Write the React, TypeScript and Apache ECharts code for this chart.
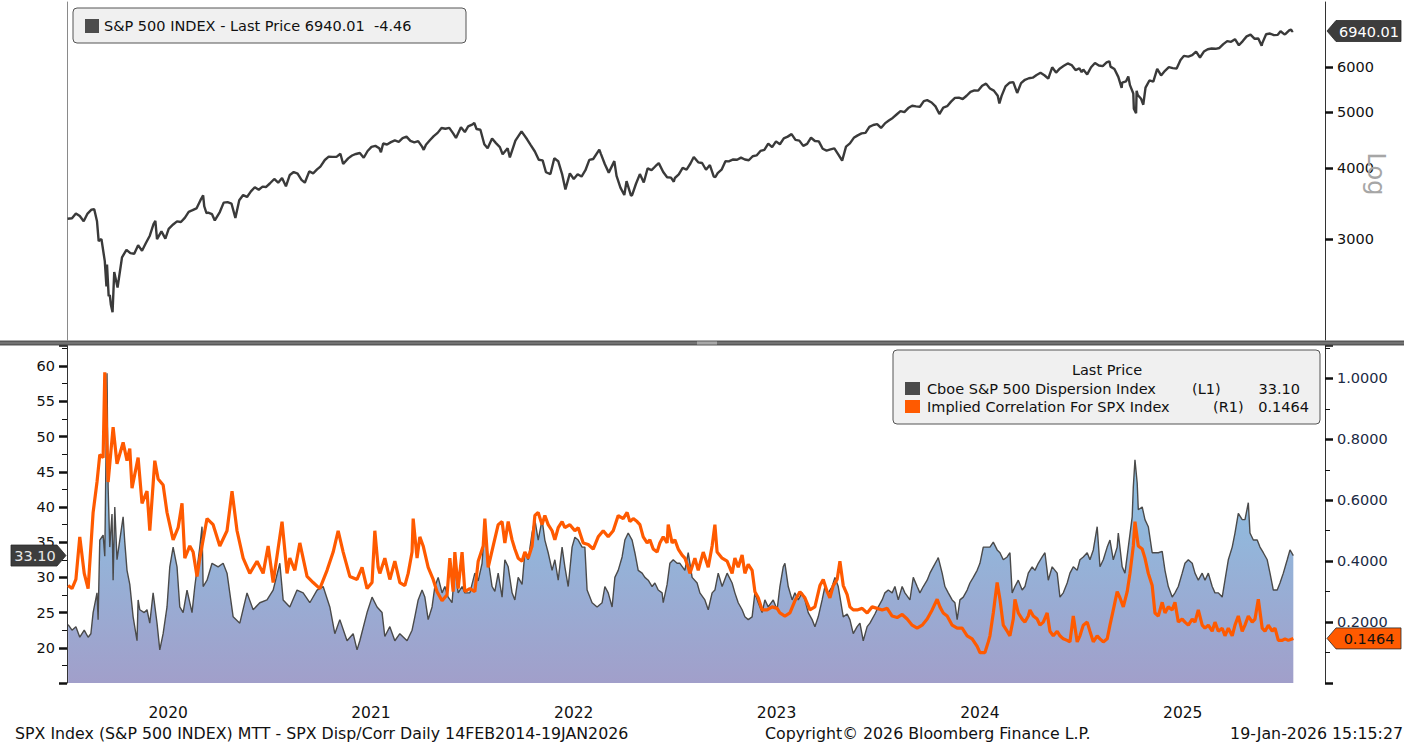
import { useEffect, useRef } from "react";
import * as echarts from "echarts";

const DAY = 86400000;
const ORIGIN = Date.UTC(2020, 0, 1);
const X_END_DAYS = 2264;
const FONT = "DejaVu Sans";

// S&P 500 closes (weekly, plus key daily turning points)
const spxCloses: [string, number][] = [
  ["2020-01-02", 3258], ["2020-01-10", 3265], ["2020-01-17", 3330], ["2020-01-24", 3295], ["2020-01-31", 3226],
  ["2020-02-07", 3328], ["2020-02-14", 3380], ["2020-02-19", 3386], ["2020-02-24", 3226], ["2020-02-27", 2979],
  ["2020-03-03", 3003], ["2020-03-09", 2747], ["2020-03-12", 2481], ["2020-03-13", 2711], ["2020-03-16", 2386],
  ["2020-03-18", 2399], ["2020-03-20", 2305], ["2020-03-23", 2237], ["2020-03-26", 2630], ["2020-04-01", 2471],
  ["2020-04-09", 2790], ["2020-04-17", 2875], ["2020-04-24", 2837], ["2020-05-01", 2831], ["2020-05-08", 2930],
  ["2020-05-15", 2864], ["2020-05-22", 2955], ["2020-05-29", 3044], ["2020-06-05", 3194], ["2020-06-08", 3232],
  ["2020-06-11", 3002], ["2020-06-19", 3098], ["2020-06-26", 3009], ["2020-07-02", 3130], ["2020-07-10", 3185],
  ["2020-07-17", 3225], ["2020-07-24", 3216], ["2020-07-31", 3271], ["2020-08-07", 3351], ["2020-08-14", 3373],
  ["2020-08-21", 3397], ["2020-08-28", 3508], ["2020-09-02", 3580], ["2020-09-04", 3427], ["2020-09-08", 3332],
  ["2020-09-11", 3341], ["2020-09-18", 3319], ["2020-09-23", 3237], ["2020-10-02", 3348], ["2020-10-09", 3477],
  ["2020-10-16", 3484], ["2020-10-23", 3465], ["2020-10-30", 3270], ["2020-11-06", 3510], ["2020-11-13", 3585],
  ["2020-11-20", 3558], ["2020-11-27", 3638], ["2020-12-04", 3699], ["2020-12-11", 3663], ["2020-12-18", 3709],
  ["2020-12-24", 3703], ["2020-12-31", 3756],
  ["2021-01-08", 3825], ["2021-01-15", 3768], ["2021-01-22", 3841], ["2021-01-29", 3714], ["2021-02-05", 3887],
  ["2021-02-12", 3934], ["2021-02-19", 3907], ["2021-02-26", 3811], ["2021-03-04", 3768], ["2021-03-12", 3943],
  ["2021-03-19", 3913], ["2021-03-26", 3975], ["2021-04-01", 4020], ["2021-04-09", 4129], ["2021-04-16", 4185],
  ["2021-04-23", 4180], ["2021-04-30", 4181], ["2021-05-07", 4233], ["2021-05-12", 4063], ["2021-05-21", 4156],
  ["2021-05-28", 4204], ["2021-06-04", 4230], ["2021-06-11", 4247], ["2021-06-18", 4166], ["2021-06-25", 4281],
  ["2021-07-02", 4352], ["2021-07-09", 4370], ["2021-07-16", 4327], ["2021-07-19", 4259], ["2021-07-23", 4412],
  ["2021-07-30", 4395], ["2021-08-06", 4437], ["2021-08-13", 4468], ["2021-08-20", 4442], ["2021-08-27", 4509],
  ["2021-09-03", 4535], ["2021-09-10", 4459], ["2021-09-17", 4433], ["2021-09-24", 4455], ["2021-10-01", 4357],
  ["2021-10-04", 4300], ["2021-10-08", 4391], ["2021-10-15", 4471], ["2021-10-22", 4545], ["2021-10-29", 4605],
  ["2021-11-05", 4697], ["2021-11-12", 4683], ["2021-11-19", 4698], ["2021-11-26", 4595], ["2021-12-01", 4513],
  ["2021-12-10", 4712], ["2021-12-17", 4621], ["2021-12-23", 4726], ["2021-12-31", 4766],
  ["2022-01-03", 4796], ["2022-01-07", 4677], ["2022-01-14", 4663], ["2022-01-21", 4398], ["2022-01-27", 4327],
  ["2022-02-04", 4501], ["2022-02-11", 4419], ["2022-02-18", 4349], ["2022-02-23", 4225], ["2022-03-04", 4329],
  ["2022-03-08", 4171], ["2022-03-18", 4463], ["2022-03-29", 4632], ["2022-04-08", 4488], ["2022-04-14", 4393],
  ["2022-04-22", 4272], ["2022-04-29", 4132], ["2022-05-06", 4123], ["2022-05-12", 3930], ["2022-05-20", 3901],
  ["2022-05-27", 4158], ["2022-06-03", 4109], ["2022-06-10", 3901], ["2022-06-16", 3667], ["2022-06-24", 3912],
  ["2022-07-01", 3825], ["2022-07-08", 3899], ["2022-07-15", 3863], ["2022-07-22", 3962], ["2022-07-29", 4130],
  ["2022-08-05", 4145], ["2022-08-16", 4305], ["2022-08-19", 4228], ["2022-08-26", 4058], ["2022-09-02", 3924],
  ["2022-09-12", 4110], ["2022-09-16", 3873], ["2022-09-23", 3693], ["2022-09-30", 3586], ["2022-10-04", 3791],
  ["2022-10-12", 3577], ["2022-10-14", 3583], ["2022-10-21", 3752], ["2022-10-28", 3901], ["2022-11-04", 3771],
  ["2022-11-11", 3993], ["2022-11-18", 3965], ["2022-11-25", 4026], ["2022-12-01", 4077], ["2022-12-09", 3934],
  ["2022-12-16", 3852], ["2022-12-23", 3845], ["2022-12-28", 3783], ["2022-12-30", 3840],
  ["2023-01-06", 3895], ["2023-01-13", 3999], ["2023-01-20", 3973], ["2023-01-27", 4071], ["2023-02-02", 4180],
  ["2023-02-10", 4090], ["2023-02-17", 4079], ["2023-02-24", 3970], ["2023-03-03", 4046], ["2023-03-10", 3862],
  ["2023-03-13", 3855], ["2023-03-17", 3917], ["2023-03-24", 3971], ["2023-03-31", 4109], ["2023-04-06", 4105],
  ["2023-04-14", 4138], ["2023-04-21", 4133], ["2023-04-28", 4169], ["2023-05-05", 4136], ["2023-05-12", 4124],
  ["2023-05-19", 4192], ["2023-05-26", 4205], ["2023-06-02", 4282], ["2023-06-09", 4299], ["2023-06-16", 4410],
  ["2023-06-23", 4348], ["2023-06-30", 4450], ["2023-07-07", 4399], ["2023-07-14", 4505], ["2023-07-21", 4536],
  ["2023-07-28", 4582], ["2023-08-04", 4478], ["2023-08-11", 4464], ["2023-08-18", 4370], ["2023-08-25", 4406],
  ["2023-09-01", 4516], ["2023-09-08", 4457], ["2023-09-15", 4450], ["2023-09-22", 4320], ["2023-09-29", 4288],
  ["2023-10-06", 4308], ["2023-10-13", 4327], ["2023-10-20", 4224], ["2023-10-27", 4117], ["2023-11-03", 4358],
  ["2023-11-10", 4415], ["2023-11-17", 4514], ["2023-11-24", 4559], ["2023-12-01", 4595], ["2023-12-08", 4604],
  ["2023-12-15", 4719], ["2023-12-22", 4754], ["2023-12-29", 4770],
  ["2024-01-05", 4697], ["2024-01-12", 4784], ["2024-01-19", 4840], ["2024-01-26", 4891], ["2024-02-02", 4959],
  ["2024-02-09", 5027], ["2024-02-16", 5006], ["2024-02-23", 5089], ["2024-03-01", 5137], ["2024-03-08", 5124],
  ["2024-03-15", 5117], ["2024-03-22", 5234], ["2024-03-28", 5254], ["2024-04-05", 5204], ["2024-04-12", 5123],
  ["2024-04-19", 4967], ["2024-04-26", 5100], ["2024-05-03", 5128], ["2024-05-10", 5223], ["2024-05-17", 5303],
  ["2024-05-24", 5305], ["2024-05-31", 5278], ["2024-06-07", 5347], ["2024-06-14", 5432], ["2024-06-21", 5465],
  ["2024-06-28", 5460], ["2024-07-05", 5567], ["2024-07-12", 5615], ["2024-07-19", 5505], ["2024-07-26", 5459],
  ["2024-08-02", 5346], ["2024-08-05", 5186], ["2024-08-09", 5344], ["2024-08-16", 5554], ["2024-08-23", 5634],
  ["2024-08-30", 5648], ["2024-09-06", 5408], ["2024-09-13", 5626], ["2024-09-20", 5703], ["2024-09-27", 5738],
  ["2024-10-04", 5751], ["2024-10-11", 5815], ["2024-10-18", 5865], ["2024-10-25", 5808], ["2024-11-01", 5729],
  ["2024-11-08", 5996], ["2024-11-15", 5871], ["2024-11-22", 5969], ["2024-11-29", 6032], ["2024-12-06", 6090],
  ["2024-12-13", 6051], ["2024-12-20", 5931], ["2024-12-27", 5971], ["2024-12-31", 5882],
  ["2025-01-03", 5942], ["2025-01-10", 5827], ["2025-01-17", 5997], ["2025-01-24", 6101], ["2025-01-31", 6041],
  ["2025-02-07", 6026], ["2025-02-14", 6115], ["2025-02-19", 6144], ["2025-02-21", 6013], ["2025-02-28", 5955],
  ["2025-03-07", 5770], ["2025-03-13", 5522], ["2025-03-14", 5639], ["2025-03-21", 5668], ["2025-03-25", 5777],
  ["2025-03-28", 5581], ["2025-04-03", 5397], ["2025-04-04", 5074], ["2025-04-08", 4983], ["2025-04-09", 5457],
  ["2025-04-11", 5363], ["2025-04-17", 5283], ["2025-04-21", 5158], ["2025-04-25", 5525], ["2025-05-02", 5687],
  ["2025-05-09", 5660], ["2025-05-16", 5958], ["2025-05-23", 5803], ["2025-05-30", 5912], ["2025-06-06", 6000],
  ["2025-06-13", 5977], ["2025-06-20", 5968], ["2025-06-27", 6173], ["2025-07-03", 6279], ["2025-07-11", 6260],
  ["2025-07-18", 6297], ["2025-07-25", 6389], ["2025-08-01", 6238], ["2025-08-08", 6389], ["2025-08-15", 6450],
  ["2025-08-22", 6467], ["2025-08-29", 6460], ["2025-09-05", 6482], ["2025-09-12", 6584], ["2025-09-19", 6664],
  ["2025-09-26", 6644], ["2025-10-03", 6716], ["2025-10-10", 6553], ["2025-10-17", 6664], ["2025-10-24", 6792],
  ["2025-10-31", 6840], ["2025-11-07", 6729], ["2025-11-14", 6734], ["2025-11-20", 6538], ["2025-11-21", 6603],
  ["2025-11-28", 6849], ["2025-12-05", 6870], ["2025-12-12", 6827], ["2025-12-19", 6834], ["2025-12-24", 6932],
  ["2025-12-31", 6845], ["2026-01-02", 6858], ["2026-01-09", 6966], ["2026-01-12", 6977], ["2026-01-14", 6926],
  ["2026-01-15", 6944.47], ["2026-01-16", 6940.01],
];

// Cboe S&P 500 Dispersion Index: [days since 2020-01-01, value]
const dispersion: [number, number][] = [
  [2, 23.3], [9, 22.5], [16, 23], [23, 21.5], [31, 22.5], [38, 21.5], [43, 22], [47, 25], [54, 27.8], [56, 24],
  [59, 35.3], [65, 36], [68, 33], [72, 59], [74, 42.8], [77, 34.3], [81, 39], [83, 29.6], [86, 40], [90, 32.5],
  [95, 35.3], [101, 38.6], [104, 35], [108, 31], [113, 29], [119, 24.4], [126, 21], [128, 26.8], [131, 25.4], [139, 25],
  [144, 25.4], [149, 23.5], [155, 27.8], [162, 23.5], [167, 19.7], [173, 22], [180, 25.8], [185, 31.5], [191, 34.3], [198, 31.5],
  [203, 25.8], [209, 25], [216, 28.2], [225, 25], [230, 28.7], [239, 34.3], [243, 37.2], [245, 28.7], [252, 29.6], [261, 32],
  [272, 31.5], [281, 32], [288, 30.6], [299, 24.4], [311, 23.5], [324, 27.8], [335, 25.4], [347, 26.4], [360, 26.8], [371, 28.2],
  [383, 32], [389, 26.8], [401, 25.8], [414, 28.2], [425, 27.8], [437, 26.4], [450, 28.2], [461, 28.7], [473, 25.8], [482, 22],
  [491, 24], [504, 21], [515, 22], [522, 19.7], [527, 21], [540, 25], [549, 27.2], [558, 25.8], [567, 25], [572, 21.6],
  [581, 23], [590, 21], [599, 22], [612, 21], [621, 22.5], [626, 24.4], [632, 26.8], [639, 28.2], [644, 27.2], [650, 24],
  [657, 25.8], [662, 28.7], [668, 30], [675, 27.8], [680, 28.7], [686, 27.2], [693, 26.4], [698, 31.5], [704, 27.8], [711, 28.7],
  [716, 27.8], [725, 27.8], [734, 30.6], [740, 29.5], [747, 32], [752, 37.7], [758, 32.5], [765, 28.7], [770, 28], [776, 30.6],
  [783, 27.2], [788, 32.5], [794, 31.5], [801, 27.8], [806, 26.8], [812, 30], [819, 29], [824, 33.5], [830, 32.5], [837, 36.3],
  [842, 38.2], [848, 35.3], [855, 38.2], [860, 35.3], [866, 33.5], [873, 31], [878, 32.5], [884, 29.6], [891, 34.3], [896, 31.5],
  [902, 28.7], [909, 34.3], [914, 35.7], [920, 35.3], [927, 34.3], [932, 34.3], [936, 28.2], [945, 26.4], [954, 25.8], [963, 26.4],
  [968, 28.7], [974, 27.8], [981, 25.8], [986, 30], [992, 31], [999, 32.9], [1004, 35.3], [1010, 36.3], [1017, 35.3], [1022, 33.5],
  [1028, 31], [1035, 30.6], [1040, 30], [1046, 29.6], [1053, 28.7], [1058, 29.2], [1064, 28.2], [1071, 27.8], [1073, 26.4], [1080, 29],
  [1085, 32], [1091, 32.5], [1098, 32], [1103, 32], [1112, 31], [1118, 33.5], [1125, 30], [1134, 29.2], [1139, 27.8], [1148, 26.8],
  [1154, 25.4], [1161, 27.8], [1166, 28.2], [1172, 30.6], [1179, 28.7], [1188, 30.6], [1197, 29.2], [1202, 27.8], [1208, 26.4], [1215, 25.4],
  [1220, 24.4], [1226, 24], [1233, 24.4], [1238, 27.8], [1244, 26.4], [1251, 25], [1256, 26.8], [1262, 25.8], [1271, 26.8], [1278, 25.4],
  [1283, 28.7], [1289, 31.5], [1292, 32], [1298, 28.7], [1305, 26.8], [1310, 27.8], [1316, 26.8], [1323, 27.8], [1328, 26.8], [1334, 25],
  [1341, 24], [1346, 23], [1352, 24.4], [1359, 26.8], [1364, 28.7], [1370, 27.8], [1377, 28.7], [1382, 30], [1388, 28.7], [1397, 24.4],
  [1404, 24.8], [1409, 24], [1415, 22], [1422, 23], [1427, 23.5], [1433, 21], [1440, 23], [1445, 23.5], [1454, 24.8], [1460, 25.8],
  [1467, 26.8], [1472, 27.8], [1478, 28.2], [1485, 27.8], [1490, 28.7], [1496, 26.8], [1503, 28.7], [1508, 27.8], [1517, 26.8], [1523, 30],
  [1530, 28.7], [1535, 27.8], [1541, 28.7], [1548, 29.6], [1553, 30.6], [1559, 31.5], [1566, 32.5], [1568, 32.8], [1575, 30.6], [1580, 28.7],
  [1586, 27.8], [1593, 26.8], [1598, 26.4], [1602, 24], [1607, 26.8], [1613, 27.2], [1620, 28.2], [1625, 29.2], [1631, 30], [1638, 31],
  [1643, 32], [1649, 34.3], [1656, 34.3], [1661, 34.3], [1667, 35], [1674, 33.9], [1679, 33.5], [1685, 32.5], [1692, 32.9], [1697, 33.5],
  [1701, 27.8], [1706, 28.7], [1712, 29.6], [1719, 28.2], [1724, 28.7], [1730, 30.6], [1737, 31.5], [1742, 31], [1748, 32], [1755, 32.9],
  [1760, 33.5], [1766, 29.6], [1773, 31.5], [1782, 30.6], [1787, 27.2], [1793, 27.8], [1800, 29.2], [1805, 30.6], [1811, 31.5], [1818, 31],
  [1823, 32.5], [1829, 32.9], [1836, 33.5], [1841, 32.5], [1847, 33.9], [1854, 37.2], [1859, 31.5], [1865, 32.5], [1872, 34.3], [1877, 35.3],
  [1883, 32.5], [1890, 34.3], [1892, 36.3], [1899, 31.5], [1904, 30.6], [1910, 34.3], [1917, 38.6], [1919, 42.8], [1922, 46.7], [1926, 43.4],
  [1928, 39.6], [1935, 40], [1940, 38.2], [1946, 37.2], [1953, 33.5], [1958, 33.5], [1964, 33.5], [1971, 33.7], [1976, 31], [1982, 28.7],
  [1989, 27.2], [1994, 27.8], [2000, 28.7], [2007, 30.6], [2012, 32], [2018, 32.5], [2025, 32], [2030, 30.6], [2036, 29.6], [2043, 30.6],
  [2048, 29.6], [2054, 30.6], [2061, 28.7], [2066, 27.8], [2072, 27.8], [2079, 27.2], [2084, 29.6], [2090, 32.5], [2097, 34.3], [2102, 36.3],
  [2108, 39.1], [2115, 38.2], [2120, 38.2], [2126, 40.6], [2129, 36.3], [2135, 35.3], [2142, 35.3], [2147, 34.3], [2153, 33.5], [2160, 32.5],
  [2165, 30.6], [2171, 28.2], [2178, 28.2], [2183, 29.2], [2189, 30.6], [2196, 32.5], [2201, 33.9], [2207, 33.1],
];

// Implied Correlation for SPX Index: [days since 2020-01-01, value]
const correlation: [number, number][] = [
  [2, 0.32], [9, 0.31], [16, 0.34], [23, 0.48], [31, 0.36], [38, 0.31], [47, 0.56], [54, 0.66], [59, 0.75], [65, 0.74],
  [68, 1.02], [74, 0.66], [83, 0.84], [90, 0.72], [101, 0.79], [108, 0.73], [113, 0.77], [117, 0.64], [128, 0.74], [135, 0.59],
  [144, 0.63], [149, 0.5], [158, 0.73], [164, 0.67], [173, 0.65], [180, 0.56], [191, 0.47], [200, 0.51], [207, 0.59], [212, 0.41],
  [221, 0.45], [227, 0.43], [234, 0.35], [239, 0.41], [252, 0.54], [263, 0.52], [275, 0.45], [288, 0.5], [297, 0.63], [306, 0.5],
  [317, 0.41], [329, 0.36], [342, 0.4], [353, 0.36], [362, 0.45], [371, 0.33], [387, 0.53], [396, 0.36], [401, 0.41], [410, 0.37],
  [419, 0.46], [432, 0.35], [443, 0.33], [455, 0.31], [468, 0.37], [479, 0.43], [488, 0.5], [497, 0.43], [509, 0.35], [522, 0.34],
  [531, 0.38], [540, 0.31], [549, 0.33], [554, 0.5], [560, 0.38], [563, 0.36], [572, 0.41], [581, 0.34], [590, 0.4], [599, 0.33],
  [608, 0.32], [614, 0.36], [621, 0.43], [623, 0.54], [630, 0.41], [635, 0.48], [641, 0.45], [650, 0.38], [659, 0.34], [666, 0.3],
  [675, 0.27], [684, 0.29], [689, 0.41], [695, 0.3], [698, 0.43], [704, 0.31], [711, 0.43], [716, 0.3], [725, 0.31], [734, 0.3],
  [740, 0.4], [749, 0.45], [752, 0.54], [758, 0.38], [767, 0.45], [776, 0.52], [783, 0.53], [788, 0.46], [794, 0.53], [801, 0.47],
  [806, 0.44], [812, 0.41], [819, 0.4], [824, 0.43], [830, 0.41], [837, 0.45], [842, 0.55], [848, 0.56], [855, 0.52], [860, 0.55],
  [866, 0.52], [873, 0.5], [878, 0.47], [884, 0.51], [891, 0.53], [896, 0.51], [905, 0.52], [914, 0.5], [920, 0.51], [929, 0.46],
  [938, 0.455], [947, 0.44], [956, 0.48], [965, 0.5], [974, 0.48], [983, 0.5], [992, 0.55], [1001, 0.54], [1008, 0.56], [1013, 0.53],
  [1019, 0.54], [1026, 0.53], [1031, 0.52], [1037, 0.48], [1044, 0.46], [1049, 0.47], [1055, 0.44], [1062, 0.43], [1067, 0.46], [1073, 0.48],
  [1080, 0.46], [1082, 0.52], [1089, 0.46], [1094, 0.47], [1100, 0.44], [1107, 0.42], [1112, 0.41], [1118, 0.38], [1121, 0.36], [1130, 0.41],
  [1136, 0.37], [1145, 0.43], [1154, 0.38], [1161, 0.45], [1166, 0.52], [1170, 0.43], [1179, 0.41], [1188, 0.4], [1197, 0.36], [1202, 0.41],
  [1208, 0.38], [1215, 0.42], [1220, 0.36], [1226, 0.39], [1233, 0.37], [1238, 0.3], [1244, 0.28], [1251, 0.24], [1260, 0.24], [1269, 0.25],
  [1278, 0.245], [1283, 0.23], [1292, 0.22], [1301, 0.23], [1310, 0.27], [1319, 0.3], [1328, 0.28], [1337, 0.24], [1346, 0.25], [1355, 0.32],
  [1361, 0.34], [1368, 0.3], [1373, 0.28], [1379, 0.32], [1386, 0.34], [1391, 0.4], [1397, 0.32], [1404, 0.29], [1409, 0.25], [1415, 0.24],
  [1422, 0.24], [1431, 0.245], [1440, 0.23], [1449, 0.25], [1458, 0.245], [1467, 0.24], [1476, 0.245], [1485, 0.22], [1494, 0.215], [1503, 0.225],
  [1512, 0.21], [1521, 0.19], [1530, 0.18], [1539, 0.19], [1548, 0.21], [1557, 0.24], [1566, 0.275], [1571, 0.25], [1577, 0.23], [1584, 0.22],
  [1593, 0.19], [1602, 0.18], [1611, 0.18], [1620, 0.155], [1629, 0.145], [1638, 0.12], [1643, 0.1], [1652, 0.1], [1658, 0.135], [1661, 0.155],
  [1667, 0.23], [1674, 0.33], [1679, 0.275], [1685, 0.19], [1692, 0.17], [1697, 0.155], [1703, 0.21], [1706, 0.275], [1712, 0.23], [1719, 0.21],
  [1724, 0.2], [1730, 0.22], [1733, 0.24], [1739, 0.22], [1746, 0.21], [1751, 0.19], [1757, 0.2], [1764, 0.23], [1769, 0.17], [1775, 0.155],
  [1782, 0.17], [1787, 0.155], [1793, 0.145], [1800, 0.14], [1805, 0.135], [1811, 0.22], [1818, 0.135], [1823, 0.155], [1829, 0.19], [1836, 0.2],
  [1841, 0.17], [1847, 0.135], [1854, 0.155], [1859, 0.145], [1865, 0.135], [1872, 0.145], [1877, 0.19], [1883, 0.24], [1890, 0.3], [1895, 0.28],
  [1901, 0.25], [1908, 0.3], [1913, 0.36], [1919, 0.45], [1922, 0.53], [1928, 0.45], [1935, 0.44], [1940, 0.41], [1946, 0.36], [1953, 0.32],
  [1958, 0.23], [1964, 0.22], [1971, 0.265], [1976, 0.23], [1982, 0.25], [1989, 0.24], [1994, 0.265], [2000, 0.2], [2007, 0.21], [2012, 0.2],
  [2018, 0.19], [2025, 0.21], [2030, 0.2], [2036, 0.24], [2043, 0.19], [2048, 0.18], [2054, 0.19], [2061, 0.17], [2066, 0.2], [2072, 0.17],
  [2079, 0.18], [2084, 0.155], [2090, 0.18], [2097, 0.155], [2102, 0.19], [2108, 0.22], [2115, 0.17], [2120, 0.19], [2126, 0.22], [2133, 0.2],
  [2138, 0.21], [2144, 0.275], [2151, 0.18], [2156, 0.17], [2162, 0.19], [2169, 0.17], [2174, 0.18], [2180, 0.14], [2187, 0.14], [2192, 0.145],
  [2198, 0.14], [2207, 0.1464],
];

const yearLabels = ["2020", "2021", "2022", "2023", "2024", "2025"];
const spxTicks = [3000, 4000, 5000, 6000];
const dispTicks = [20, 25, 30, 35, 40, 45, 50, 55, 60];
const corrTicks = [0.2, 0.4, 0.6, 0.8, 1.0];

const lastSpx = 6940.01;
const spxChange = -4.46;
const lastDisp = 33.1;
const lastCorr = 0.1464;

const DISP_COLOR = "#4a4a4a";
const CORR_COLOR = "#ff5a00";

export default function App() {
  const ref = useRef<HTMLDivElement>(null);

  useEffect(() => {
    if (!ref.current) return;
    const chart = echarts.init(ref.current, undefined, { renderer: "svg" });
    const toTs = (d: number) => ORIGIN + d * DAY;
    const axisText = { fontFamily: FONT, fontSize: 14.5, color: "#111" };

    chart.setOption({
      animation: false,
      backgroundColor: "#ffffff",
      textStyle: { fontFamily: FONT },
      grid: [
        { left: 67, right: 79, top: 2, height: 338 },
        { left: 67, right: 79, top: 345, height: 338 },
      ],
      xAxis: [
        { type: "value", gridIndex: 0, min: ORIGIN, max: toTs(X_END_DAYS), show: false },
        {
          type: "value", gridIndex: 1, min: ORIGIN, max: toTs(X_END_DAYS),
          axisLine: { show: false }, axisTick: { show: false }, splitLine: { show: false },
          axisLabel: {
            ...axisText, fontSize: 15.5, margin: 22,
            customValues: yearLabels.map((y) => Date.UTC(Number(y), 6, 1)),
            formatter: (v: number) => String(new Date(v).getUTCFullYear()),
          },
        },
      ],
      yAxis: [
        {
          type: "value", gridIndex: 0, position: "right",
          min: Math.log10(2000), max: Math.log10(7800),
          splitLine: { show: false },
          axisLine: { show: true, lineStyle: { color: "#333", width: 1 } },
          axisTick: { show: true, length: 8, customValues: spxTicks.map((v) => Math.log10(v)), lineStyle: { color: "#111", width: 2.5 } },
          axisLabel: { ...axisText, margin: 12, customValues: spxTicks.map((v) => Math.log10(v)), formatter: (v: number) => String(Math.round(Math.pow(10, v))) },
        },
        {
          type: "value", gridIndex: 0, position: "left", min: 0, max: 1,
          splitLine: { show: false }, axisTick: { show: false }, axisLabel: { show: false },
          axisLine: { show: true, lineStyle: { color: "#8a8a8a", width: 1 } },
        },
        {
          type: "value", gridIndex: 1, position: "left", min: 15, max: 63, interval: 5,
          splitLine: { show: false },
          axisLine: { show: true, lineStyle: { color: "#333", width: 1 } },
          axisTick: { show: true, length: 8, lineStyle: { color: "#111", width: 2.5 } },
          minorTick: { show: true, splitNumber: 2, length: 5, lineStyle: { color: "#111", width: 1 } },
          axisLabel: {
            ...axisText, margin: 12,
            formatter: (v: number) => (dispTicks.indexOf(v) >= 0 ? String(v) : ""),
          },
        },
        {
          type: "value", gridIndex: 1, position: "right", min: 0, max: 1.11, interval: 0.2,
          splitLine: { show: false },
          axisLine: { show: true, lineStyle: { color: "#333", width: 1 } },
          axisTick: { show: true, length: 8, lineStyle: { color: "#111", width: 2.5 } },
          minorTick: { show: true, splitNumber: 2, length: 5, lineStyle: { color: "#111", width: 1 } },
          axisLabel: {
            ...axisText, color: "#1b2a44", margin: 12,
            formatter: (v: number) => (corrTicks.some((t) => Math.abs(t - v) < 1e-6) ? v.toFixed(4) : ""),
          },
        },
      ],
      series: [
        {
          name: "S&P 500 INDEX", type: "line", xAxisIndex: 0, yAxisIndex: 0,
          showSymbol: false, symbol: "none",
          lineStyle: { color: "#3a3a3a", width: 2.4 },
          data: spxCloses.map(([d, v]) => [Date.parse(d + "T00:00:00Z"), Math.log10(v)]),
          z: 3,
        },
        {
          name: "Cboe S&P 500 Dispersion Index", type: "line", xAxisIndex: 1, yAxisIndex: 2,
          showSymbol: false, symbol: "none",
          lineStyle: { color: DISP_COLOR, width: 1.4 },
          areaStyle: {
            origin: "start",
            color: new echarts.graphic.LinearGradient(0, 430, 0, 683, [
              { offset: 0, color: "#8ac6e6" },
              { offset: 0.45, color: "#93b5da" },
              { offset: 1, color: "#a19fca" },
            ], true),
            opacity: 1,
          },
          data: dispersion.map(([d, v]) => [toTs(d), v]),
          z: 2,
        },
        {
          name: "Implied Correlation For SPX Index", type: "line", xAxisIndex: 1, yAxisIndex: 3,
          showSymbol: false, symbol: "none",
          lineStyle: { color: CORR_COLOR, width: 3.2 },
          data: correlation.map(([d, v]) => [toTs(d), v]),
          z: 4,
        },
      ],
    });

    const ySpx = chart.convertToPixel({ yAxisIndex: 0 }, Math.log10(lastSpx)) as number;
    const yDisp = chart.convertToPixel({ yAxisIndex: 2 }, lastDisp) as number;
    const yCorr = chart.convertToPixel({ yAxisIndex: 3 }, lastCorr) as number;

    const font = (size: number) => `${size}px "${FONT}"`;
    const rightTag = (y: number, label: string, fill: string, color: string) => ([
      {
        type: "polygon", z: 120,
        shape: { points: [[1327, y], [1336, y - 10.5], [1401, y - 10.5], [1401, y + 10.5], [1336, y + 10.5]] },
        style: { fill, stroke: "#2a2a2a", lineWidth: 0.8 },
      },
      { type: "text", z: 121, style: { x: 1369, y: y + 0.5, text: label, fill: color, font: font(14.5), align: "center", verticalAlign: "middle" } },
    ]);

    const footerFont = font(15.8);
    const graphics: any[] = [
      // panel divider
      { type: "rect", z: 110, shape: { x: 0, y: 340.5, width: 1404, height: 5 }, style: { fill: "#585858" } },
      { type: "rect", z: 111, shape: { x: 0, y: 342.5, width: 1404, height: 1 }, style: { fill: "#8c8c8c" } },
      { type: "rect", z: 112, shape: { x: 697, y: 341.5, width: 20, height: 3 }, style: { fill: "#a8a8a8" } },
      // top legend
      { type: "rect", z: 100, shape: { x: 73, y: 8, width: 393, height: 35, r: 4 }, style: { fill: "#f0f0f0", stroke: "#555", lineWidth: 1 } },
      { type: "rect", z: 101, shape: { x: 85, y: 19, width: 14, height: 14 }, style: { fill: "#4d4d4d" } },
      { type: "text", z: 101, style: { x: 104, y: 26, text: `S&P 500 INDEX - Last Price ${lastSpx.toFixed(2)}  ${spxChange.toFixed(2)}`, fill: "#111", font: font(14.5), verticalAlign: "middle" } },
      // bottom legend
      { type: "rect", z: 100, shape: { x: 893, y: 350, width: 427, height: 74, r: 4 }, style: { fill: "#f0f0f0", stroke: "#555", lineWidth: 1 } },
      { type: "text", z: 101, style: { x: 1107, y: 370, text: "Last Price", fill: "#111", font: font(14.5), align: "center", verticalAlign: "middle" } },
      { type: "rect", z: 101, shape: { x: 905, y: 382, width: 15, height: 13 }, style: { fill: DISP_COLOR } },
      { type: "text", z: 101, style: { x: 927, y: 389, text: "Cboe S&P 500 Dispersion Index", fill: "#111", font: font(14.5), verticalAlign: "middle" } },
      { type: "text", z: 101, style: { x: 1192, y: 389, text: "(L1)", fill: "#111", font: font(14.5), verticalAlign: "middle" } },
      { type: "text", z: 101, style: { x: 1300, y: 389, text: lastDisp.toFixed(2), fill: "#111", font: font(14.5), align: "right", verticalAlign: "middle" } },
      { type: "rect", z: 101, shape: { x: 905, y: 400, width: 15, height: 13 }, style: { fill: CORR_COLOR } },
      { type: "text", z: 101, style: { x: 927, y: 407, text: "Implied Correlation For SPX Index", fill: "#111", font: font(14.5), verticalAlign: "middle" } },
      { type: "text", z: 101, style: { x: 1213, y: 407, text: "(R1)", fill: "#111", font: font(14.5), verticalAlign: "middle" } },
      { type: "text", z: 101, style: { x: 1309, y: 407, text: lastCorr.toFixed(4), fill: "#111", font: font(14.5), align: "right", verticalAlign: "middle" } },
      // "Log" marker
      { type: "text", z: 101, x: 1376, y: 174, rotation: -Math.PI / 2, style: { x: 0, y: 0, text: "Log", fill: "#a6a6a6", font: font(24), align: "center", verticalAlign: "middle" } },
      // last value tags
      ...rightTag(ySpx, lastSpx.toFixed(2), "#3d3d3d", "#ffffff"),
      ...rightTag(yCorr, lastCorr.toFixed(4), CORR_COLOR, "#111111"),
      {
        type: "polygon", z: 120,
        shape: { points: [[11, yDisp - 10.5], [57, yDisp - 10.5], [66, yDisp], [57, yDisp + 10.5], [11, yDisp + 10.5]] },
        style: { fill: "#3d3d3d", stroke: "#2a2a2a", lineWidth: 0.8 },
      },
      { type: "text", z: 121, style: { x: 35, y: yDisp + 0.5, text: lastDisp.toFixed(2), fill: "#e8e8e8", font: font(14.5), align: "center", verticalAlign: "middle" } },
      // footer
      { type: "text", z: 101, style: { x: 15, y: 733, text: "SPX Index (S&P 500 INDEX) MTT - SPX Disp/Corr Daily 14FEB2014-19JAN2026", fill: "#111", font: footerFont, verticalAlign: "middle" } },
      { type: "text", z: 101, style: { x: 765, y: 733, text: "Copyright\u00a9 2026 Bloomberg Finance L.P.", fill: "#111", font: footerFont, verticalAlign: "middle" } },
      { type: "text", z: 101, style: { x: 1403, y: 733, text: "19-Jan-2026 15:15:27", fill: "#111", font: footerFont, align: "right", verticalAlign: "middle" } },
    ];

    chart.setOption({ graphic: graphics });

    return () => chart.dispose();
  }, []);

  return <div ref={ref} style={{ position: "fixed", left: 0, top: 0, width: 1404, height: 746 }} />;
}
